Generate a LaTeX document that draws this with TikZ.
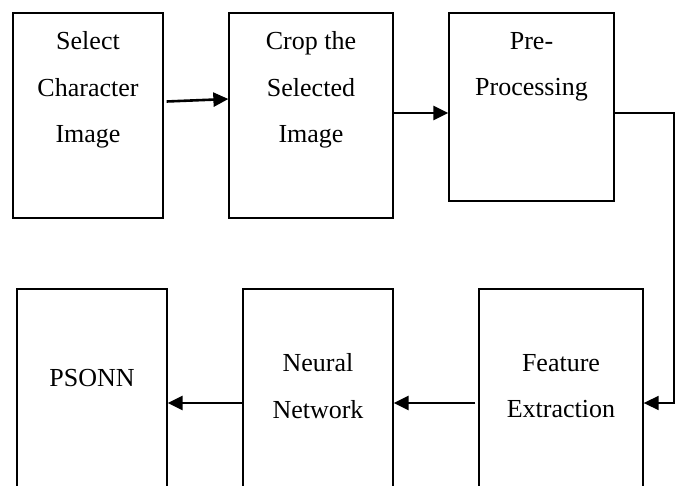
\documentclass[tikz,border=0pt]{standalone}
\usepackage{fontspec}
\setmainfont{Liberation Serif}
\usetikzlibrary{arrows.meta}
\tikzset{
  box/.style={draw=black, line width=1.3pt, rectangle, inner sep=0pt, minimum height=205pt},
  txt/.style={align=center, inner sep=0pt, anchor=north, font=\fontsize{26}{46.5}\selectfont},
  flow/.style={line width=2.6pt, -{Triangle[length=15pt,width=14pt]}},
  link/.style={line width=1.6pt, -{Triangle[length=15pt,width=14pt]}}
}
\begin{document}
\begin{tikzpicture}[x=1pt, y=-1pt]
\clip (0,0) rectangle (679,486);
\fill[white] (0,0) rectangle (679,486);
% top row
\node[box, minimum width=150pt] (b1) at (88,115.5) {};
\node[box, minimum width=164pt] (b2) at (311,115.5) {};
\node[box, minimum width=165pt, minimum height=188pt] (b3) at (531.5,107) {};
% bottom row
\node[box, minimum width=150pt, minimum height=231pt] (b4) at (92,404.5) {};
\node[box, minimum width=150pt, minimum height=231pt] (b5) at (318,404.5) {};
\node[box, minimum width=164pt, minimum height=231pt] (b6) at (561,404.5) {};
% texts
\node[txt] (t1) at ([yshift=-19.2pt]b1.north) {Select\\Character\\Image};
\node[txt] (t2) at ([yshift=-19.2pt]b2.north) {Crop the\\Selected\\Image};
\node[txt] (t3) at ([yshift=-19.8pt]b3.north) {Pre-\\Processing};
\node[txt] (t4) at ([yshift=-80.8pt]b4.north) {PSONN};
\node[txt] (t5) at ([yshift=-65.2pt]b5.north) {Neural\\Network};
\node[txt] (t6) at ([yshift=-65.8pt]b6.north) {Feature\\Extraction};
% connectors
\coordinate (c1) at (674,113);
\draw[flow] ([xshift=3pt,yshift=14pt]b1.east) -- ([yshift=16.5pt]b2.west);
\draw[flow] ([yshift=2.5pt]b2.east) -- ([yshift=-6pt]b3.west);
\draw[link] ([yshift=-6pt]b3.east) -- (c1) |- ([yshift=1.5pt]b6.east);
\draw[flow] ([xshift=-3pt,yshift=1.5pt]b6.west) -- ([yshift=1.5pt]b5.east);
\draw[flow] ([yshift=1.5pt]b5.west) -- ([yshift=1.5pt]b4.east);
\end{tikzpicture}
\end{document}
